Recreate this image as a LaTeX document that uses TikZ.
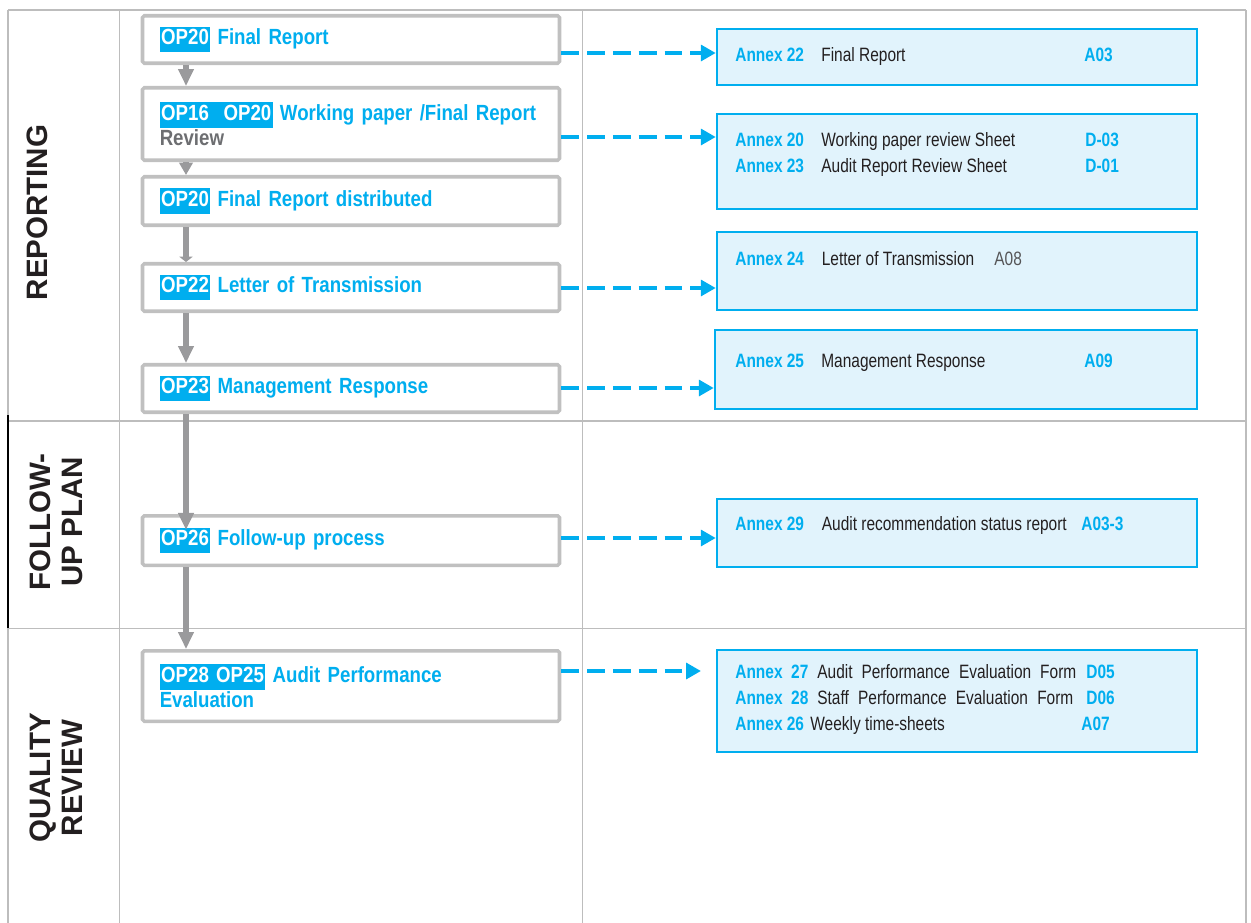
\documentclass[tikz,border=0pt]{standalone}
\usepackage{fontspec}
\usetikzlibrary{arrows.meta}
\newfontfamily\narrowfont[FakeStretch=0.85]{Liberation Sans}
\newfontfamily\annexfont[FakeStretch=0.8]{Liberation Sans}
\newfontfamily\labelfont{Liberation Sans}
\definecolor{cyanb}{HTML}{00AEEF}
\definecolor{annexfill}{HTML}{E1F3FC}
\definecolor{gridg}{HTML}{BDBDBD}
\definecolor{boxg}{HTML}{C0C0C0}
\definecolor{arrg}{HTML}{9A9A9C}
\definecolor{darktext}{HTML}{231F20}
\definecolor{reviewg}{HTML}{6D6E71}
\definecolor{codegray}{HTML}{555557}
\newlength{\pxu}\setlength{\pxu}{0.02cm}
\newcommand{\hlop}[1]{{\setlength{\fboxsep}{0.8pt}\colorbox{cyanb}{\rule[-3.7pt]{0pt}{13.1pt}\textcolor{white}{#1}}}}
\newcommand{\alab}[1]{{\bfseries\color{cyanb}#1}}
\newcommand{\adesc}[1]{{\color{darktext}#1}}
\newcommand{\aline}[5]{\makebox[#1\pxu][l]{\alab{#3}}\makebox[#2\pxu][l]{\adesc{#4}}\alab{#5}}
\begin{document}
\begin{tikzpicture}[x=0.02cm,y=-0.02cm,
  gridline/.style={draw=gridg,line width=0.85pt},
  blackline/.style={draw=black,line width=1pt},
  pbox/.style={draw=boxg,line width=2pt,fill=white,rounded corners=1pt,
    text width=382.5\pxu,inner xsep=17.25\pxu,inner ysep=0pt,align=left,
    text=cyanb,font={\fontsize{12.5pt}{14.5pt}\narrowfont\bfseries}},
  abox/.style={draw=cyanb,fill=annexfill,line width=1.4pt,inner sep=0pt},
  atext/.style={anchor=base west,inner sep=0pt,font={\fontsize{11pt}{13pt}\annexfont}},
  seclabel/.style={rotate=90,inner sep=0pt,align=center,text=darktext,
    font={\fontsize{16.8pt}{18.4pt}\labelfont\bfseries}},
  garrow/.style={draw=arrg,line width=3.4pt,-{Triangle[length=9.6pt,width=8.5pt]}},
  darrow/.style={draw=cyanb,line width=2.3pt,dash pattern=on 10.2pt off 4.5pt,
    -{Triangle[length=8.5pt,width=9pt]}}
]
\useasboundingbox (0,0) rectangle (1251,923);
% grid
\draw[gridline] (8,10) -- (1246,10);
\draw[gridline] (1246,10) -- (1246,923);
\draw[gridline] (8,10) -- (8,415);
\draw[gridline] (8,628) -- (8,923);
\draw[gridline] (119.5,10) -- (119.5,923);
\draw[gridline] (582.5,10) -- (582.5,923);
\draw[gridline] (8,421) -- (1246,421);
\draw[gridline] (8,628.5) -- (1246,628.5);
\draw[blackline] (8,415) -- (8,628);
% section labels
\node[seclabel] (s1) at (37.5,212.5) {REPORTING};
\node[seclabel] (s2) at (56.25,522) {FOLLOW-\\UP PLAN};
\node[seclabel] (s3) at (56,778) {QUALITY\\REVIEW};
% process boxes
\node[pbox,minimum height=47.5\pxu] (b1) at (351,39.5) {\hlop{OP20} Final Report};
\node[pbox,minimum height=72.5\pxu] (b2) at (351,124) {\hlop{OP16\ \ OP20} Working paper /Final Report\\\textcolor{reviewg}{Review}};
\node[pbox,minimum height=48.5\pxu] (b3) at (351,201) {\hlop{OP20} Final Report distributed};
\node[pbox,minimum height=47.5\pxu] (b4) at (351,287.5) {\hlop{OP22} Letter of Transmission};
\node[pbox,minimum height=47.5\pxu] (b5) at (351,388.5) {\hlop{OP23} Management Response};
\node[pbox,minimum height=49.5\pxu] (b6) at (351,540.5) {\hlop{OP26} Follow-up process};
\node[pbox,minimum height=70.5\pxu] (b7) at (351,686) {\hlop{OP28 OP25} Audit Performance\\Evaluation};
% annex boxes
\node[abox,minimum width=480\pxu,minimum height=55.5\pxu] (a1) at (957,57) {};
\node[abox,minimum width=480\pxu,minimum height=95.5\pxu] (a2) at (957,161.5) {};
\node[abox,minimum width=480\pxu,minimum height=78.5\pxu] (a3) at (957,271) {};
\node[abox,minimum width=482\pxu,minimum height=79.5\pxu] (a4) at (956,369.5) {};
\node[abox,minimum width=480\pxu,minimum height=68.5\pxu] (a5) at (957,533) {};
\node[abox,minimum width=480\pxu,minimum height=102.5\pxu] (a6) at (957,701) {};
% annex texts
\node[atext] (t1) at (735,61) {\aline{86}{263}{Annex 22}{Final Report}{A03}};
\node[atext] (t2) at (735,146) {\aline{86}{264}{Annex 20}{Working paper review Sheet}{D-03}};
\node[atext] (t3) at (735,172) {\aline{86}{264}{Annex 23}{Audit Report Review Sheet}{D-01}};
\node[atext] (t4) at (735,265) {\makebox[86.5\pxu][l]{\alab{Annex 24}}\makebox[172.5\pxu][l]{\adesc{Letter of Transmission}}\textcolor{codegray}{A08}};
\node[atext] (t5) at (735,367) {\aline{86}{263}{Annex 25}{Management Response}{A09}};
\node[atext] (t6) at (735,530) {\aline{86.5}{259.5}{Annex 29}{Audit recommendation status report}{A03-3}};
\node[atext] (t7) at (735,678) {\makebox[82\pxu][l]{\alab{Annex\ \ 27}}\makebox[259\pxu][s]{\adesc{Audit Performance Evaluation Form}}\hspace{10\pxu}\alab{D05}};
\node[atext] (t8) at (735,704) {\makebox[82\pxu][l]{\alab{Annex\ \ 28}}\makebox[256\pxu][s]{\adesc{Staff Performance Evaluation Form}}\hspace{13\pxu}\alab{D06}};
\node[atext] (t9) at (735,730) {\aline{75}{271}{Annex 26}{Weekly time-sheets}{A07}};
% gray flow arrows
\coordinate (col) at (186,0);
\draw[garrow] (b1.south -| col) -- (b2.north -| col);
\draw[garrow,-{Triangle[length=7pt,width=7.5pt]}] (b2.south -| col) -- (b3.north -| col);
\draw[garrow,-{Triangle[length=3pt,width=7.5pt]}] (b3.south -| col) -- (b4.north -| col);
\draw[garrow] (b4.south -| col) -- (b5.north -| col);
\coordinate (c6) at (b6.north -| col);
\draw[garrow] (b5.south -| col) -- ([yshift=-9pt]c6);
\draw[garrow] (b6.south -| col) -- (b7.north -| col);
% dashed links
\coordinate (y1) at (0,53);
\coordinate (y2) at (0,137);
\coordinate (y3) at (0,288);
\coordinate (y4) at (0,388);
\coordinate (y5) at (0,538);
\coordinate (e6) at (701,671);
\draw[darrow] (b1.east |- y1) -- (a1.west |- y1);
\draw[darrow] (b2.east |- y2) -- (a2.west |- y2);
\draw[darrow] (b4.east |- y3) -- (a3.west |- y3);
\draw[darrow] (b5.east |- y4) -- (a4.west |- y4);
\draw[darrow] (b6.east |- y5) -- (a5.west |- y5);
\draw[darrow] (b7.east |- e6) -- (e6);
\end{tikzpicture}
\end{document}
